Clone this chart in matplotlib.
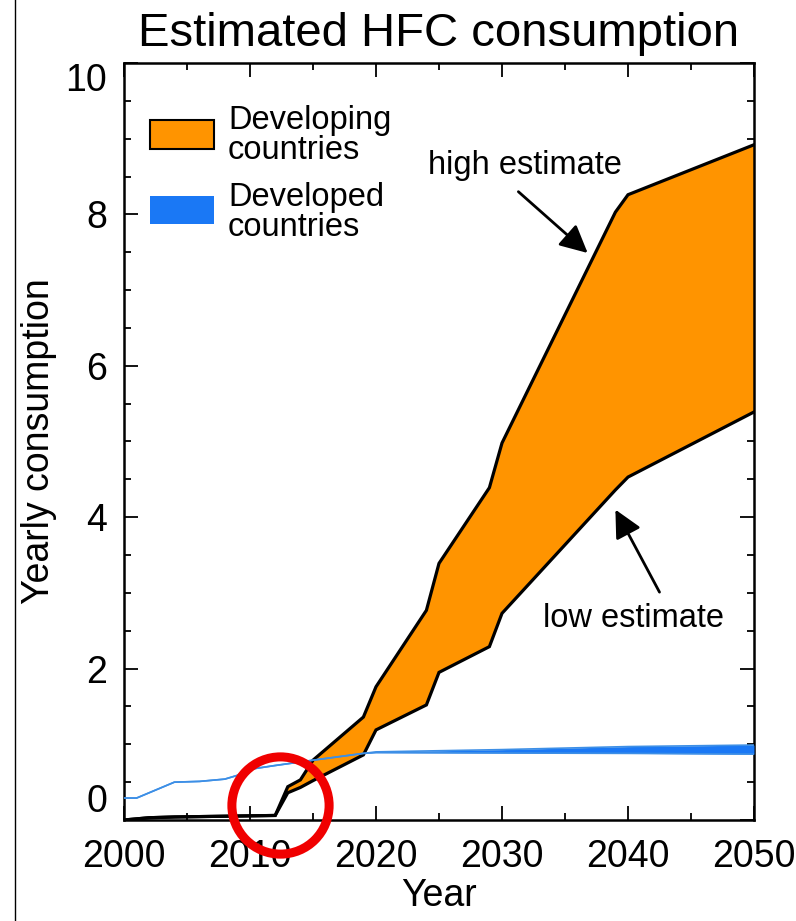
import matplotlib
matplotlib.use('Agg')
import matplotlib.pyplot as plt
from matplotlib.patches import Rectangle
from matplotlib.lines import Line2D
from matplotlib.ticker import MultipleLocator

# Developing countries (orange band, high / low estimates)
dev_years = [2000, 2002, 2004, 2012, 2013, 2014, 2015, 2019, 2020, 2024, 2025, 2029, 2030, 2039, 2040, 2050]
dev_high = [0.0, 0.03, 0.04, 0.06, 0.44, 0.53, 0.79, 1.36, 1.76, 2.77, 3.39, 4.39, 4.98, 8.03, 8.26, 8.92]
dev_low = [0.0, 0.03, 0.04, 0.06, 0.36, 0.43, 0.52, 0.86, 1.19, 1.52, 1.95, 2.29, 2.73, 4.36, 4.53, 5.39]

# Developed countries (blue band)
ind_years = [2000, 2001, 2004, 2006, 2008, 2009, 2010, 2012, 2015, 2019, 2020, 2030, 2040, 2050]
ind_low = [0.29, 0.29, 0.50, 0.51, 0.54, 0.59, 0.67, 0.72, 0.79, 0.88, 0.89, 0.885, 0.88, 0.87]
ind_high = [0.29, 0.29, 0.50, 0.51, 0.54, 0.59, 0.67, 0.72, 0.79, 0.88, 0.90, 0.93, 0.97, 0.99]

x_ticks = [2000, 2010, 2020, 2030, 2040, 2050]
y_ticks = [0, 2, 4, 6, 8, 10]

orange = '#ff9400'
blue = '#1a78f5'

plt.rcParams['font.family'] = ['Liberation Sans', 'DejaVu Sans']

fig = plt.figure(figsize=(7.96, 9.21), dpi=100)
ax = fig.add_axes([124 / 796, 1 - 820 / 921, 630 / 796, 757 / 921])

# Orange band with black outlines
ax.fill_between(dev_years, dev_low, dev_high, color=orange, lw=0, zorder=2)
ax.plot(dev_years, dev_high, color='black', lw=2.3, zorder=3, solid_joinstyle='miter')
ax.plot(dev_years, dev_low, color='black', lw=2.3, zorder=3, solid_joinstyle='miter')

# Blue band on top
ax.fill_between(ind_years, ind_low, ind_high, color=blue, lw=0, zorder=4)
ax.plot(ind_years, ind_high, color='#3d8fe6', lw=1.2, zorder=4)
ax.plot(ind_years, ind_low, color='#3d8fe6', lw=1.2, zorder=4)

ax.set_xlim(2000, 2050)
ax.set_ylim(0, 10)
ax.set_xticks(x_ticks)
ax.set_yticks(y_ticks)
ax.xaxis.set_minor_locator(MultipleLocator(5))
ax.yaxis.set_minor_locator(MultipleLocator(0.5))
ax.tick_params(which='both', direction='in', top=True, right=True, width=1.3, labelsize=27)
ax.tick_params(which='major', length=10)
ax.tick_params(which='minor', length=5)
ax.tick_params(axis='x', pad=14)
ax.tick_params(axis='y', pad=12)
for s in ax.spines.values():
    s.set_linewidth(1.8)

ticks = ax.yaxis.get_major_ticks()
ticks[0].label1.set_verticalalignment('bottom')
ticks[-1].label1.set_verticalalignment('top')

ax.set_xlabel('Year', fontsize=27, labelpad=2)
ax.set_ylabel('Yearly consumption', fontsize=27, labelpad=6)
ax.set_title('Estimated HFC consumption', fontsize=34, pad=12)

# Legend drawn by hand
ax.add_patch(Rectangle((0.0413, 0.8864), 0.1016, 0.0383, transform=ax.transAxes,
                       facecolor=orange, edgecolor='black', lw=1.5, zorder=5))
ax.text(0.165, 0.904, 'Developing\ncountries', transform=ax.transAxes, fontsize=23.5,
        va='center', ha='left', linespacing=0.95)
ax.add_patch(Rectangle((0.0413, 0.787), 0.1016, 0.037, transform=ax.transAxes,
                       facecolor=blue, edgecolor='none', zorder=5))
ax.text(0.165, 0.802, 'Developed\ncountries', transform=ax.transAxes, fontsize=23.5,
        va='center', ha='left', linespacing=0.95)

# Annotations
arrow = dict(arrowstyle='-|>,head_length=0.6,head_width=0.3', color='black', lw=2,
             mutation_scale=28, shrinkA=0, shrinkB=0)
ax.text(2031.8, 8.65, 'high estimate', fontsize=23.5, ha='center', va='center')
ax.annotate('', xy=(2036.8, 7.49), xytext=(2031.3, 8.30), arrowprops=arrow)
ax.text(2040.4, 2.66, 'low estimate', fontsize=23.5, ha='center', va='center')
ax.annotate('', xy=(2039.0, 4.10), xytext=(2042.5, 3.01), arrowprops=arrow)

# Red circle highlight
ax.plot([2012.38], [0.2], marker='o', ms=70, mew=6.5, mfc='none', mec='#f00000',
        clip_on=False, zorder=10)

# Left border line of the original image
fig.add_artist(Line2D([15 / 796, 15 / 796], [0, 1], color='black', lw=1))

fig.savefig('out.png', dpi=100)
